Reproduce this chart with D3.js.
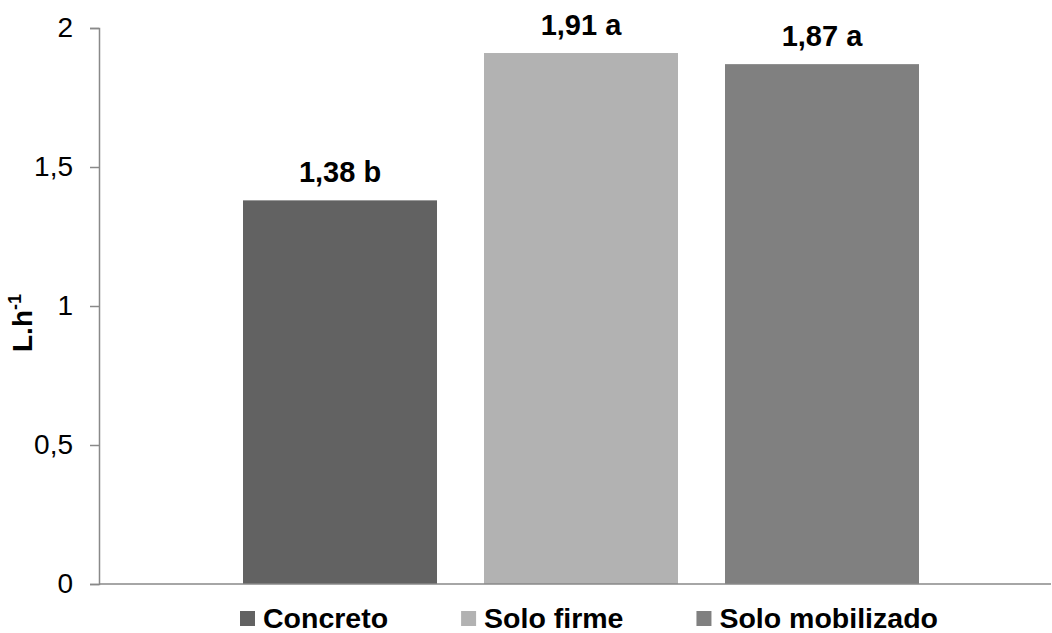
<!DOCTYPE html>
<html>
<head>
<meta charset="utf-8">
<script src="https://cdn.jsdelivr.net/npm/d3@7"></script>
<style>
  html, body { margin: 0; padding: 0; background: #fff; }
  svg { display: block; font-family: "Liberation Sans", Arial, sans-serif; }
</style>
</head>
<body>
<svg id="chart" width="1052" height="633"></svg>
<script>
// Water flow (L.h-1) by surface type
const series = ["Concreto", "Solo firme", "Solo mobilizado"];
const values = [1.38, 1.91, 1.87];
const groups = ["b", "a", "a"];
const colors = ["#626262", "#b2b2b2", "#808080"];
const yTicks = [0, 0.5, 1, 1.5, 2];

const svg = d3.select("#chart");
const plot = { left: 99, right: 1051, top: 28, bottom: 584 };

const y = d3.scaleLinear().domain([0, 2]).range([plot.bottom, plot.top]);
const x = d3.scaleBand().domain(series).range([243, 919]).paddingInner(0.195).paddingOuter(0);

const comma = v => d3.format("~g")(v).replace(".", ",");
const axisColor = "#898989";

// Bars
svg.append("g").selectAll("rect")
  .data(series)
  .join("rect")
  .attr("x", d => x(d))
  .attr("width", x.bandwidth())
  .attr("y", (d, i) => y(values[i]))
  .attr("height", (d, i) => y(0) - y(values[i]))
  .attr("fill", (d, i) => colors[i]);

// Value labels with significance letters
svg.append("g").selectAll("text")
  .data(series)
  .join("text")
  .attr("x", d => x(d) + x.bandwidth() / 2)
  .attr("y", (d, i) => y(values[i]) - 18)
  .attr("text-anchor", "middle")
  .attr("font-size", 29)
  .attr("font-weight", "bold")
  .attr("fill", "#000")
  .text((d, i) => d3.format(".2f")(values[i]).replace(".", ",") + " " + groups[i]);

// Y axis
const yAxis = svg.append("g")
  .attr("transform", `translate(${plot.left},0)`)
  .call(d3.axisLeft(y).tickValues(yTicks).tickFormat(comma).tickSize(9).tickPadding(17));
yAxis.select(".domain").attr("stroke", axisColor).attr("stroke-width", 1.5);
yAxis.selectAll(".tick line").attr("stroke", axisColor).attr("stroke-width", 1.5);
yAxis.selectAll(".tick text")
  .attr("font-size", 28)
  .attr("font-family", "'Liberation Sans', Arial, sans-serif")
  .attr("fill", "#000");

// X axis baseline
svg.append("line")
  .attr("x1", plot.left).attr("x2", plot.right)
  .attr("y1", y(0)).attr("y2", y(0))
  .attr("stroke", axisColor).attr("stroke-width", 1.5);

// Y axis title
const title = svg.append("text")
  .attr("transform", "translate(32,352) rotate(-90)")
  .attr("font-size", 28)
  .attr("font-weight", "bold")
  .attr("fill", "#000");
title.append("tspan").text("L.h");
title.append("tspan").attr("font-size", 18).attr("dy", -11).text("-1");

// Legend
const legend = svg.append("g");
let lx = 240;
series.forEach((s, i) => {
  legend.append("rect")
    .attr("x", lx).attr("y", 611)
    .attr("width", 15).attr("height", 15)
    .attr("fill", colors[i]);
  const t = legend.append("text")
    .attr("x", lx + 23).attr("y", 628)
    .attr("font-size", 28.5)
    .attr("font-weight", "bold")
    .attr("fill", "#000")
    .text(s);
  lx += 23 + t.node().getComputedTextLength() + 73;
});
</script>
</body>
</html>
